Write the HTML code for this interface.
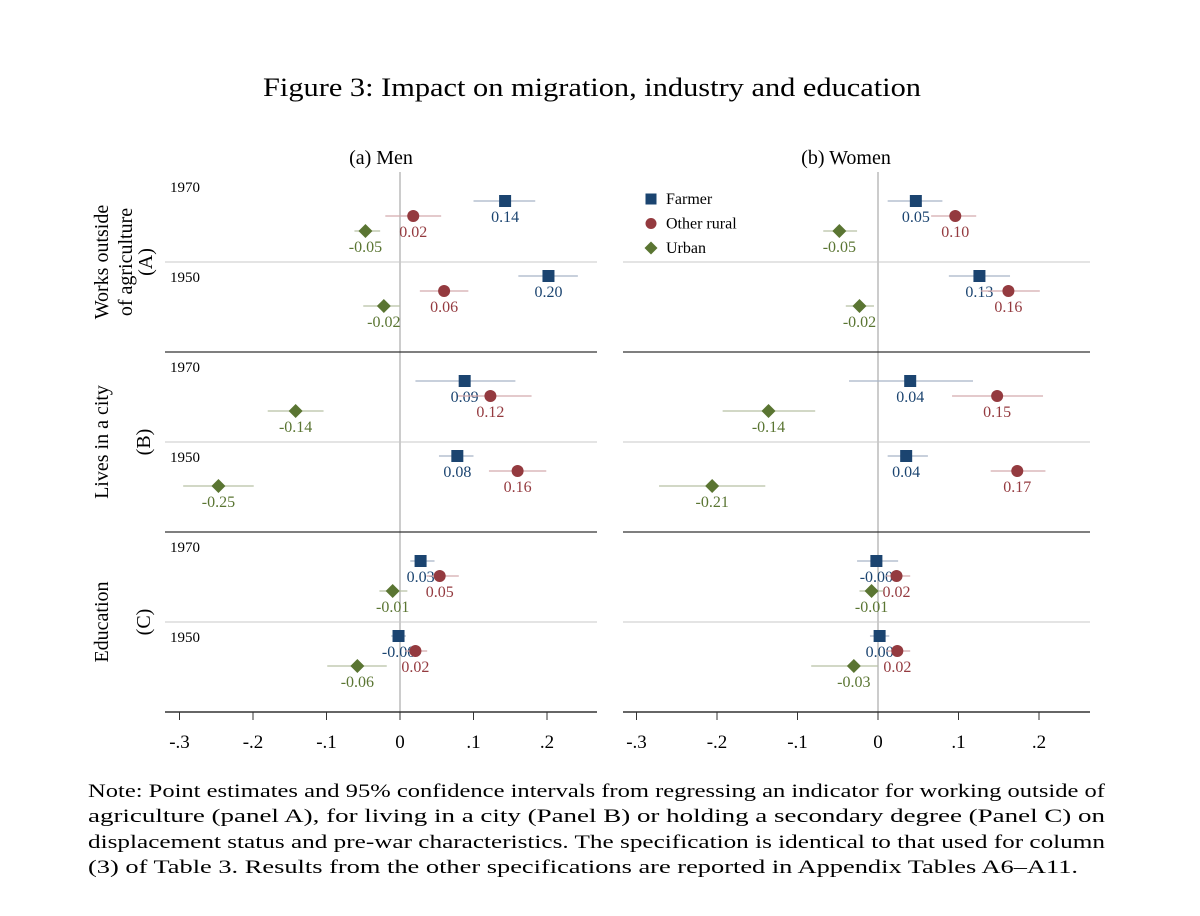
<!DOCTYPE html>
<html><head><meta charset="utf-8"><style>
body{margin:0;background:#fff;width:1200px;height:916px;overflow:hidden}
svg{display:block}
text{font-family:"Liberation Serif",serif}
</style></head><body>
<svg id="c" width="1200" height="916">
<text x="263" y="96" font-size="26" textLength="658" lengthAdjust="spacingAndGlyphs">Figure 3: Impact on migration, industry and education</text>
<g font-size="19">
<text x="88" y="797" textLength="1017" lengthAdjust="spacingAndGlyphs">Note: Point estimates and 95% confidence intervals from regressing an indicator for working outside of</text>
<text x="88" y="822" textLength="1017" lengthAdjust="spacingAndGlyphs">agriculture (panel A), for living in a city (Panel B) or holding a secondary degree (Panel C) on</text>
<text x="88" y="848" textLength="1017" lengthAdjust="spacingAndGlyphs">displacement status and pre-war characteristics. The specification is identical to that used for column</text>
<text x="88" y="873" textLength="990" lengthAdjust="spacingAndGlyphs">(3) of Table 3. Results from the other specifications are reported in Appendix Tables A6–A11.</text>
</g>
<g font-size="20">
<text transform="translate(108,262) rotate(-90)" text-anchor="middle">Works outside</text>
<text transform="translate(132,262) rotate(-90)" text-anchor="middle">of agriculture</text>
<text transform="translate(152,262) rotate(-90)" text-anchor="middle">(A)</text>
<text transform="translate(108,442) rotate(-90)" text-anchor="middle">Lives in a city</text>
<text transform="translate(150,442) rotate(-90)" text-anchor="middle">(B)</text>
<text transform="translate(108,622) rotate(-90)" text-anchor="middle">Education</text>
<text transform="translate(150,622) rotate(-90)" text-anchor="middle">(C)</text>
</g>
<g id="plots"></g>
</svg>
<script>
const panelTitles=["(a) Men","(b) Women"];
const groups=["Farmer","Other rural","Urban"];
const years=["1970","1950"];
const ticks=[-0.3,-0.2,-0.1,0,0.1,0.2];
const tickLabels=["-.3","-.2","-.1","0",".1",".2"];
// order: [A1970,A1950,B1970,B1950,C1970,C1950] each [farmer,rural,urban]
const menEst=[[0.143,0.018,-0.047],[0.202,0.060,-0.022],[0.088,0.123,-0.142],[0.078,0.160,-0.247],[0.028,0.054,-0.010],[-0.002,0.021,-0.058]];
const menLo=[[0.100,-0.020,-0.062],[0.161,0.027,-0.050],[0.021,0.079,-0.180],[0.053,0.121,-0.295],[0.014,0.036,-0.028],[-0.012,0.007,-0.099]];
const menHi=[[0.184,0.056,-0.027],[0.242,0.093,0.000],[0.157,0.179,-0.104],[0.100,0.199,-0.199],[0.047,0.080,0.010],[0.008,0.037,-0.018]];
const womEst=[[0.047,0.096,-0.048],[0.126,0.162,-0.023],[0.040,0.148,-0.136],[0.035,0.173,-0.206],[-0.002,0.023,-0.008],[0.002,0.024,-0.030]];
const womLo=[[0.012,0.066,-0.068],[0.088,0.128,-0.040],[-0.036,0.092,-0.193],[0.012,0.140,-0.272],[-0.026,0.010,-0.023],[-0.010,0.010,-0.083]];
const womHi=[[0.080,0.122,-0.026],[0.164,0.201,-0.005],[0.118,0.205,-0.078],[0.062,0.208,-0.140],[0.025,0.040,0.007],[0.014,0.040,0.000]];
const colors=["#1b4470","#943a3f","#5a7532"];
const ciColors=["#a8b4c6","#d4aaad","#b7c1a5"];
const panels=[{x0:165,x1:597,zero:400,unit:735,est:menEst,lo:menLo,hi:menHi},{x0:623,x1:1090,zero:878,unit:805,est:womEst,lo:womLo,hi:womHi}];
const ns="http://www.w3.org/2000/svg";
const root=document.getElementById('plots');
function mk(t,a,p){const e=document.createElementNS(ns,t);for(const k in a)e.setAttribute(k,a[k]);(p||root).appendChild(e);return e;}
const plotTop=172,blockH=90;
function yPos(r,g){const b=Math.floor(r/2),yr=r%2;return plotTop+b*blockH*2+29+yr*75+g*15;}
panels.forEach((P,pi)=>{
  const xs=v=>P.zero+v*P.unit;
  const g=mk('g',{});
  
  
  const t=mk('text',{x:pi?846:381,y:164,'font-size':20,'text-anchor':'middle'},g);t.textContent=panelTitles[pi];
  
  mk('line',{x1:xs(0),x2:xs(0),y1:plotTop,y2:712,stroke:'#999','stroke-width':1},g);
  for(let b=0;b<3;b++){
    mk('line',{x1:P.x0,x2:P.x1,y1:plotTop+b*180+90,y2:plotTop+b*180+90,stroke:'#c8c8c8','stroke-width':1},g);
    if(b<2)mk('line',{x1:P.x0,x2:P.x1,y1:plotTop+(b+1)*180,y2:plotTop+(b+1)*180,stroke:'#333','stroke-width':1.2},g);
    if(pi==0)years.forEach((yv,yi)=>{const yt=mk('text',{x:170,y:plotTop+b*180+yi*90+20,'font-size':15},g);yt.textContent=yv;
      });
  }
  mk('line',{x1:P.x0,x2:P.x1,y1:712,y2:712,stroke:'#333','stroke-width':1.5},g);
  ticks.forEach((tv,i)=>{const x=xs(tv);mk('line',{x1:x,x2:x,y1:712,y2:720,stroke:'#333'},g);
    const tl=mk('text',{x:x,y:748,'font-size':19,'text-anchor':'middle'},g);tl.textContent=tickLabels[i];
    });
  P.est.forEach((row,r)=>row.forEach((v,gi)=>{
    const y=yPos(r,gi),x=xs(v);
    const ci=mk('line',{x1:xs(P.lo[r][gi]),x2:xs(P.hi[r][gi]),y1:y,y2:y,stroke:ciColors[gi],'stroke-width':1.3},g);
    
    let m;
    if(gi==0)m=mk('rect',{x:x-6,y:y-6,width:12,height:12,fill:colors[0]},g);
    else if(gi==1)m=mk('circle',{cx:x,cy:y,r:6,fill:colors[1]},g);
    else m=mk('polygon',{points:`${x},${y-7} ${x+7},${y} ${x},${y+7} ${x-7},${y}`,fill:colors[2]},g);
    
    const lb=mk('text',{x:x,y:y+21,'font-size':16,'text-anchor':'middle',fill:colors[gi]},g);
    lb.textContent=v.toFixed(2);
    
  }));
  if(pi==1){
    const lg=mk('g',{});
    groups.forEach((nm,gi)=>{const y=199+gi*24.5,x=651;let m;
      if(gi==0)m=mk('rect',{x:x-5.5,y:y-5.5,width:11,height:11,fill:colors[0]},lg);
      else if(gi==1)m=mk('circle',{cx:x,cy:y,r:5.5,fill:colors[1]},lg);
      else m=mk('polygon',{points:`${x},${y-6.5} ${x+6.5},${y} ${x},${y+6.5} ${x-6.5},${y}`,fill:colors[2]},lg);
      
      const t=mk('text',{x:666,y:y+5,'font-size':16},lg);t.textContent=nm;
      });
  }
});
</script>
</body></html>
